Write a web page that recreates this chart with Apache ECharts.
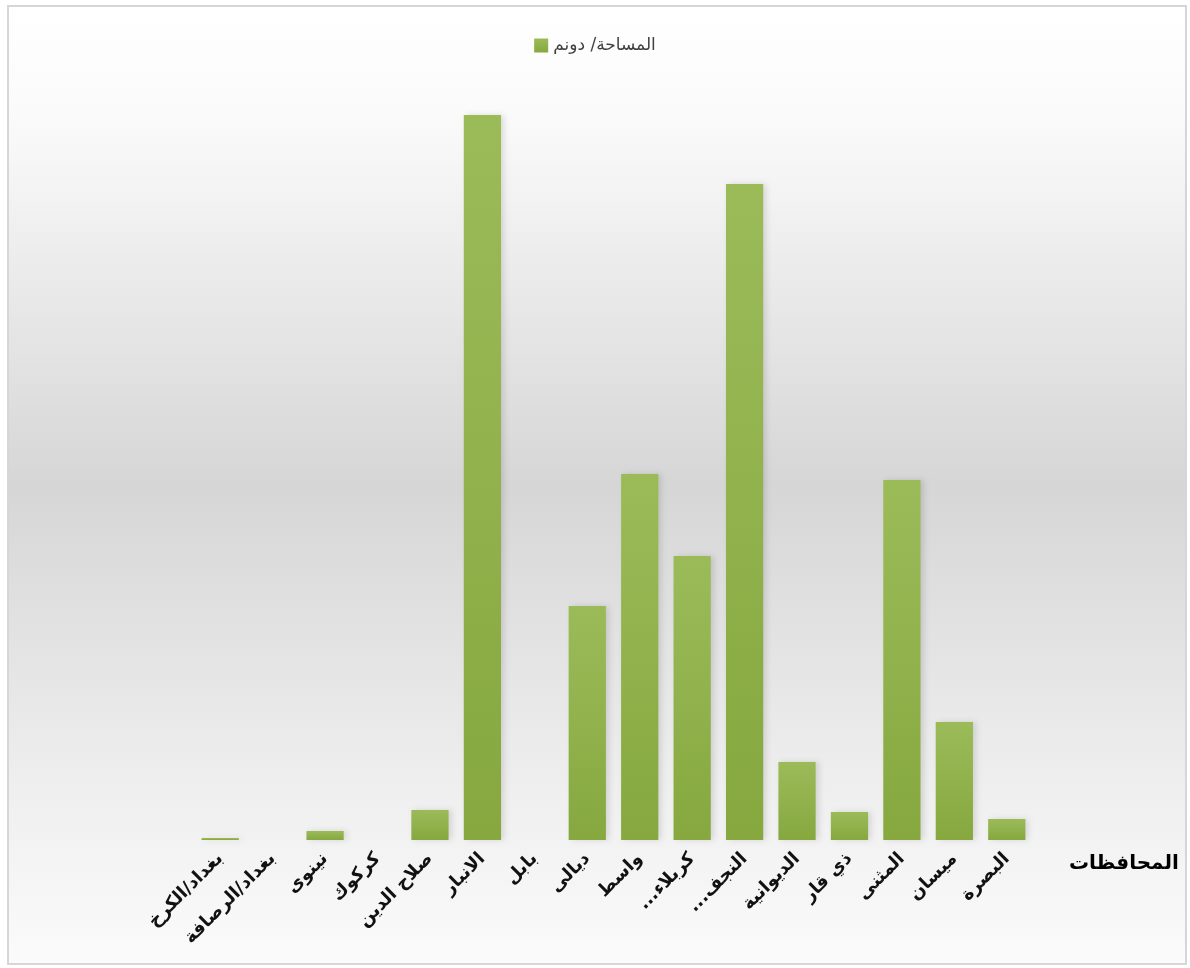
<!DOCTYPE html>
<html>
<head>
<meta charset="utf-8">
<script src="https://cdn.jsdelivr.net/npm/echarts@6/dist/echarts.min.js"></script>
<style>html,body{margin:0;padding:0;background:#fff}#c{width:1190px;height:968px}</style>
</head>
<body>
<div id="c"></div>
<script>
var categories = ['بغداد/الكرخ','بغداد/الرصافة','نينوى','كركوك','صلاح الدين','الانبار','بابل','ديالى','واسط','...كربلاء','...النجف','الديوانية','ذي قار','المثنى','ميسان','البصرة'];
var seriesName = 'المساحة/ دونم';
var areaValues = [2, 0, 9, 0, 30, 725, 0, 234, 366, 284, 656, 78, 28, 360, 118, 21];
var axisName = 'المحافظات';

var chart = echarts.init(document.getElementById('c'));
chart.setOption({
  animation: false,
  graphic: [{
    type: 'rect', z: -10, silent: true,
    shape: {x: 8, y: 6, width: 1178, height: 958},
    style: {
      stroke: '#d6d6d6', lineWidth: 2,
      fill: new echarts.graphic.LinearGradient(0, 0, 0, 1, [
        {offset: 0, color: '#ffffff'},
        {offset: 0.12, color: '#fafafa'},
        {offset: 0.5, color: '#d6d6d6'},
        {offset: 0.82, color: '#efefef'},
        {offset: 1, color: '#fbfbfb'}
      ])
    }
  }],
  legend: {
    top: 32, left: 'center', align: 'left',
    itemWidth: 14, itemHeight: 14, icon: 'rect', itemGap: 6,
    textStyle: {color: '#404040', fontSize: 17, fontFamily: 'DejaVu Sans'},
    data: [seriesName]
  },
  grid: {left: 194, right: 157, top: 80, bottom: 128, containLabel: false},
  xAxis: {
    type: 'category', data: categories,
    axisLine: {show: false}, axisTick: {show: false},
    axisLabel: {rotate: 45, interval: 0, color: '#111', fontSize: 18, fontWeight: 'bold', fontFamily: 'DejaVu Sans', margin: 16},
    name: axisName, nameLocation: 'end', nameGap: 36,
    nameTextStyle: {color: '#000', fontSize: 20, fontWeight: 'bold', fontFamily: 'DejaVu Sans', verticalAlign: 'top', padding: [14, 0, 0, 0]}
  },
  yAxis: {type: 'value', min: 0, max: 760, show: false, splitLine: {show: false}},
  series: [{
    name: seriesName, type: 'bar', data: areaValues,
    barCategoryGap: '29%',
    itemStyle: {
      color: new echarts.graphic.LinearGradient(0, 0, 0, 1, [
        {offset: 0, color: '#9bbb59'},
        {offset: 1, color: '#86a83f'}
      ]),
      shadowColor: 'rgba(0,0,0,0.12)', shadowBlur: 6, shadowOffsetX: 3, shadowOffsetY: 0
    }
  }]
});
</script>
</body>
</html>
